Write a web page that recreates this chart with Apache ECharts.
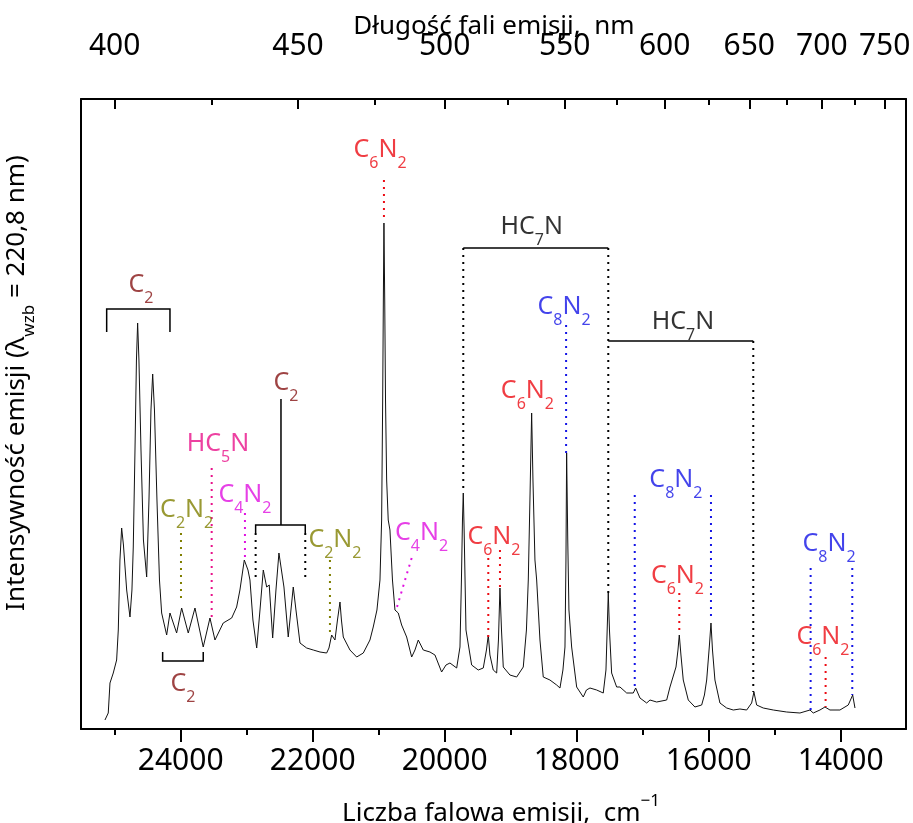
<!DOCTYPE html>
<html><head><meta charset="utf-8">
<script src="https://cdn.jsdelivr.net/npm/echarts@6/dist/echarts.min.js"></script>
<style>html,body{margin:0;padding:0;background:#fff}#c{width:913px;height:823px}</style>
</head><body><div id="c"></div>
<script>
// ---- data ----
const wavenumber = [25147,25097,25071,25021,24970,24945,24920,24894,24867,24818,24768,24738,24718,24692,24670,24652,24632,24601,24564,24515,24480,24450,24424,24397,24359,24321,24288,24212,24162,24061,23985,23885,23783,23658,23556,23480,23355,23227,23152,23102,23036,22980,22950,22905,22848,22798,22748,22697,22658,22606,22556,22511,22435,22370,22294,22253,22192,22091,21991,21889,21788,21753,21712,21662,21624,21586,21564,21536,21435,21333,21233,21132,21082,21026,20980,20955,20939,20929,20920,20908,20896,20879,20855,20829,20791,20753,20703,20652,20576,20500,20450,20400,20324,20223,20147,20046,19980,19920,19818,19768,19746,19730,19718,19705,19677,19591,19491,19415,19367,19339,19314,19264,19212,19185,19162,19139,19112,19011,18909,18809,18761,18733,18708,18682,18662,18632,18606,18556,18506,18405,18303,18253,18208,18177,18162,18152,18135,18117,18076,18000,17900,17852,17798,17697,17597,17556,17533,17521,17503,17470,17394,17344,17242,17142,17106,17041,16939,16889,16788,16636,16586,16495,16465,16445,16420,16385,16309,16208,16106,16064,16030,15988,15965,15942,15905,15829,15727,15627,15526,15424,15349,15314,15273,15173,15021,14818,14617,14465,14415,14314,14238,14162,14011,13885,13818,13783];
const intensity = [9,16,46,56,69,99,169,201,184,139,112,139,182,279,369,406,369,279,189,152,229,319,355,319,229,149,116,94,116,96,121,96,121,82,111,89,106,111,122,139,169,159,149,109,81,119,159,142,144,91,139,176,142,92,142,119,86,81,79,77,76,81,94,89,109,127,109,92,79,72,76,89,102,119,149,209,329,429,506,429,329,249,209,199,149,119,116,104,92,72,79,89,79,77,74,57,64,66,61,82,149,209,236,199,99,64,59,61,79,94,74,59,56,89,141,99,62,54,52,62,99,149,229,316,249,169,149,89,52,49,44,41,59,82,169,276,189,119,82,42,32,39,41,39,36,59,109,136,99,56,42,42,36,36,41,31,26,29,27,29,42,62,79,94,74,49,29,22,24,34,49,84,106,79,49,26,21,19,20,19,26,37,24,21,19,17,16,19,16,19,22,19,19,24,34,21];

const bottomMajorTicks = [24000,22000,20000,18000,16000,14000];
const bottomMinorTicks = [25000,23000,21000,19000,17000,15000];
const topMajorNm = [400,450,500,550,600,650,700,750];
const topMinorNm = [425,475,525,575,625,675,725];

const MAROON = '#861414', PINK = '#e8128a', MAGENTA = '#e010e0', OLIVE = '#7f7f00',
      RED = '#ec0c14', BLUE = '#1414e6', BLACK = '#000000';

// annotation labels: formula, colour, position in data units (wavenumber, intensity)
const annotationLabels = [
  {f:'C_2', c:MAROON, x:24602, y:447},
  {f:'C_2', c:MAROON, x:22405, y:349},
  {f:'HC_5N', c:PINK, x:23435, y:288},
  {f:'C_4N_2', c:MAGENTA, x:23026, y:237},
  {f:'C_2N_2', c:OLIVE, x:23909, y:222},
  {f:'C_2', c:MAROON, x:23965, y:48},
  {f:'C_2N_2', c:OLIVE, x:21662, y:192},
  {f:'C_6N_2', c:RED, x:20980, y:582},
  {f:'C_4N_2', c:MAGENTA, x:20349, y:199},
  {f:'C_6N_2', c:RED, x:19253, y:195},
  {f:'HC_7N', c:BLACK, x:18682, y:505},
  {f:'C_8N_2', c:BLUE, x:18192, y:425},
  {f:'C_6N_2', c:RED, x:18746, y:341},
  {f:'HC_7N', c:BLACK, x:16389, y:410},
  {f:'C_8N_2', c:BLUE, x:16496, y:252},
  {f:'C_6N_2', c:RED, x:16473, y:156},
  {f:'C_8N_2', c:BLUE, x:14177, y:188},
  {f:'C_6N_2', c:RED, x:14268, y:95}
];
// annotation lines in data units
const annotationLines = [
  {c:BLACK, s:'solid', p:[[25121,397],[25121,420],[24162,420],[24162,397]]},
  {c:BLACK, s:'solid', p:[[22480,330],[22480,204]]},
  {c:BLACK, s:'solid', p:[[22864,196],[22864,204],[22112,204],[22112,196]]},
  {c:BLACK, s:'dot', p:[[22864,196],[22864,150]]},
  {c:BLACK, s:'dot', p:[[22112,196],[22112,148]]},
  {c:PINK, s:'dot', p:[[23530,261],[23530,112]]},
  {c:MAGENTA, s:'dot', p:[[23026,216],[23026,172]]},
  {c:OLIVE, s:'dot', p:[[23995,196],[23995,126]]},
  {c:BLACK, s:'solid', p:[[24273,77],[24273,68],[23658,68],[23658,77]]},
  {c:OLIVE, s:'dot', p:[[21738,169],[21738,96]]},
  {c:RED, s:'dot', p:[[20920,549],[20920,509]]},
  {c:MAGENTA, s:'dot', p:[[20500,171],[20727,121]]},
  {c:RED, s:'dot', p:[[19339,171],[19339,92]]},
  {c:RED, s:'dot', p:[[19162,179],[19162,139]]},
  {c:BLACK, s:'solid', p:[[19718,481],[17521,481]]},
  {c:BLACK, s:'dot', p:[[19718,481],[19718,236]]},
  {c:BLACK, s:'dot', p:[[17521,481],[17521,136]]},
  {c:BLUE, s:'dot', p:[[18160,404],[18160,276]]},
  {c:BLACK, s:'solid', p:[[17521,388],[15324,388]]},
  {c:BLACK, s:'dot', p:[[15324,388],[15324,37]]},
  {c:BLUE, s:'dot', p:[[17120,234],[17120,42]]},
  {c:BLUE, s:'dot', p:[[15965,234],[15965,109]]},
  {c:RED, s:'dot', p:[[16445,136],[16445,96]]},
  {c:BLUE, s:'dot', p:[[14455,161],[14455,19]]},
  {c:BLUE, s:'dot', p:[[13824,161],[13824,34]]},
  {c:RED, s:'dot', p:[[14228,72],[14228,22]]}
];

const X_MIN = 13010, X_MAX = 25510, Y_MIN = 0, Y_MAX = 630;
const FONT = "'Noto Sans', 'Open Sans', sans-serif";

function formula(f) {
  let s = '{m|' + f.replace(/_(\d)/g, '}{s|$1}{m|') + '}';
  return s.replace(/\{m\|\}/g, '');
}
const labelRich = {
  m: {fontSize: 25, lineHeight: 28, verticalAlign: 'top', fontFamily: FONT},
  s: {fontSize: 16, lineHeight: 16, padding: [18, 0, 0, 0], verticalAlign: 'top', fontFamily: FONT}
};

const chart = echarts.init(document.getElementById('c'), null, {renderer: 'canvas'});
const axisBase = {type: 'value', min: X_MIN, max: X_MAX, inverse: true, gridIndex: 0,
  splitLine: {show: false}, minorTick: {show: false}};
const AXIS_W = 2;

const option = {
  animation: false,
  backgroundColor: '#fff',
  grid: {left: 81, right: 7, top: 99, bottom: 94, containLabel: false, outerBoundsMode: 'none'},
  xAxis: [
    Object.assign({}, axisBase, {
      position: 'bottom',
      axisLine: {show: true, onZero: false, lineStyle: {color: '#000', width: AXIS_W}},
      axisTick: {show: true, inside: false, length: 13, lineStyle: {color: '#000', width: AXIS_W}, customValues: bottomMajorTicks},
      axisLabel: {show: true, customValues: bottomMajorTicks, formatter: v => String(Math.round(v)),
        fontSize: 30, color: '#000', fontFamily: FONT, margin: 17}
    }),
    Object.assign({}, axisBase, {
      position: 'bottom',
      axisLine: {show: false, onZero: false},
      axisTick: {show: true, inside: false, length: 6, lineStyle: {color: '#000', width: AXIS_W}, customValues: bottomMinorTicks},
      axisLabel: {show: false}
    }),
    Object.assign({}, axisBase, {
      position: 'top',
      axisLine: {show: true, onZero: false, lineStyle: {color: '#000', width: AXIS_W}},
      axisTick: {show: true, inside: true, length: 10, lineStyle: {color: '#000', width: AXIS_W}, customValues: topMajorNm.map(n => 1e7 / n)},
      axisLabel: {show: true, customValues: topMajorNm.map(n => 1e7 / n), formatter: v => String(Math.round(1e7 / v)),
        fontSize: 30, color: '#000', fontFamily: FONT, margin: 38}
    }),
    Object.assign({}, axisBase, {
      position: 'top',
      axisLine: {show: false, onZero: false},
      axisTick: {show: true, inside: true, length: 6, lineStyle: {color: '#000', width: AXIS_W}, customValues: topMinorNm.map(n => 1e7 / n)},
      axisLabel: {show: false}
    })
  ],
  yAxis: [
    {type: 'value', min: Y_MIN, max: Y_MAX, position: 'left',
      axisLine: {show: true, onZero: false, lineStyle: {color: '#000', width: AXIS_W}},
      axisTick: {show: false}, axisLabel: {show: false}, splitLine: {show: false}},
    {type: 'value', min: Y_MIN, max: Y_MAX, position: 'right',
      axisLine: {show: true, onZero: false, lineStyle: {color: '#000', width: AXIS_W}},
      axisTick: {show: false}, axisLabel: {show: false}, splitLine: {show: false}}
  ],
  series: [
    {
      type: 'line', xAxisIndex: 0, yAxisIndex: 0,
      data: wavenumber.map((w, i) => [w, intensity[i]]),
      showSymbol: false, symbol: 'none', smooth: false,
      lineStyle: {color: '#111', width: 1}, silent: true, z: 3
    },
    {
      type: 'lines', coordinateSystem: 'cartesian2d', xAxisIndex: 0, yAxisIndex: 0,
      polyline: true, silent: true, z: 4,
      data: annotationLines.map(l => ({
        coords: l.p,
        lineStyle: l.s === 'dot'
          ? {color: l.c, width: 2, type: [2, 5], opacity: 1}
          : {color: l.c, width: 1.5, type: 'solid', opacity: 1}
      }))
    },
    {
      type: 'scatter', xAxisIndex: 0, yAxisIndex: 0, symbolSize: 1, silent: true, z: 5,
      itemStyle: {color: 'rgba(0,0,0,0)'},
      data: annotationLabels.map(a => ({
        value: [a.x, a.y],
        label: {show: true, position: 'inside', offset: [0, 4], color: a.c,
          formatter: formula(a.f), rich: labelRich, fontFamily: FONT}
      }))
    }
  ],
  graphic: [
    {type: 'text', x: 494, y: 27, silent: true,
      style: {text: 'Długość fali emisji,  nm', fill: '#000', fontSize: 26, fontFamily: FONT,
        align: 'center', verticalAlign: 'middle'}},
    {type: 'text', x: 501, y: 810, silent: true,
      style: {text: '{m|Liczba falowa emisji,  cm}{p|\u22121}', fill: '#000', fontFamily: FONT,
        align: 'center', verticalAlign: 'middle',
        rich: {m: {fontSize: 26, lineHeight: 34, verticalAlign: 'bottom', fontFamily: FONT},
               p: {fontSize: 17, lineHeight: 17, verticalAlign: 'top', fontFamily: FONT}}}},
    {type: 'text', x: 19, y: 383, rotation: Math.PI / 2, silent: true,
      style: {text: '{m|Intensywność emisji (λ}{s|wzb}{m| = 220,8 nm)}', fill: '#000', fontFamily: FONT,
        align: 'center', verticalAlign: 'middle',
        rich: {m: {fontSize: 26, lineHeight: 30, verticalAlign: 'top', fontFamily: FONT},
               s: {fontSize: 17, lineHeight: 17, padding: [17, 0, 0, 0], verticalAlign: 'top', fontFamily: FONT}}}}
  ]
};
chart.setOption(option);
</script>
</body></html>
